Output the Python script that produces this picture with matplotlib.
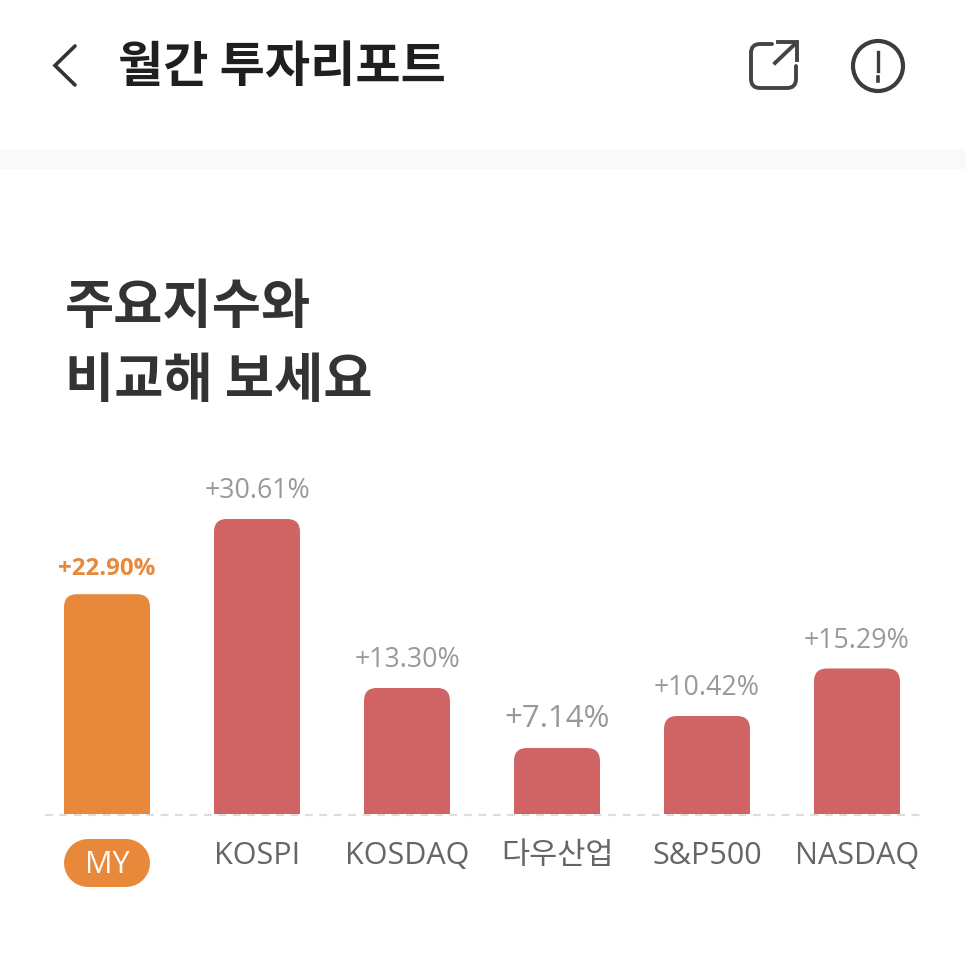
import matplotlib
matplotlib.use('Agg')
import matplotlib.pyplot as plt
from matplotlib.patches import FancyBboxPatch, Circle, Rectangle, PathPatch
from matplotlib.path import Path

plt.rcParams['font.family'] = ['Open Sans', 'Noto Sans CJK KR']

categories = ['MY', 'KOSPI', 'KOSDAQ', '다우산업', 'S&P500', 'NASDAQ']
returns = [22.90, 30.61, 13.30, 7.14, 10.42, 15.29]
value_labels = ['+22.90%', '+30.61%', '+13.30%', '+7.14%', '+10.42%', '+15.29%']

ORANGE = '#e8883b'
RED = '#d06464'
W, H = 966, 977
CJK = ['Noto Sans CJK KR', 'DejaVu Sans']

fig = plt.figure(figsize=(W / 100, H / 100), dpi=100, facecolor='white')

# page chrome, in pixel coordinates
bg = fig.add_axes([0, 0, 1, 1])
bg.set_xlim(0, W)
bg.set_ylim(H, 0)
bg.axis('off')

bg.add_patch(Rectangle((0, 149), W, 20, fc='#f7f9fa', ec='none'))
bg.text(118, 68, '월간 투자리포트', family=CJK, weight='bold', fontsize=35.4,
        color='#1f1f1f', va='center', ha='left')
bg.text(65, 307, '주요지수와', family=CJK, weight='bold', fontsize=38.5,
        color='#333333', va='center', ha='left')
bg.text(65, 381.5, '비교해 보세요', family=CJK, weight='bold', fontsize=38.5,
        color='#333333', va='center', ha='left')

# back arrow
bg.plot([75, 55, 75], [46, 65.5, 85], color='#333333', lw=2.6, solid_capstyle='round',
        solid_joinstyle='miter')

# share icon
C = Path.CURVE3
verts = [(772, 44), (760, 44), (751, 44), (751, 53), (751, 79), (751, 88), (760, 88),
         (787, 88), (796, 88), (796, 79), (796, 66)]
codes = [Path.MOVETO, Path.LINETO, C, C, Path.LINETO, C, C, Path.LINETO, C, C, Path.LINETO]
bg.add_patch(PathPatch(Path(verts, codes), fc='none', ec='#444444', lw=2.8, capstyle='round'))
bg.plot([775, 796], [63, 43], color='#444444', lw=2.8)
bg.plot([778, 797, 797], [42, 42, 60], color='#444444', lw=2.8, solid_joinstyle='miter')

# info icon
bg.add_patch(Circle((878, 66), 25, fc='none', ec='#3c3c3c', lw=3))
bg.plot([878, 878], [52, 71], color='#3c3c3c', lw=2.4)
bg.plot([878, 878], [76.5, 81], color='#3c3c3c', lw=2.6)

# baseline and MY pill
bg.plot([45, 921], [815, 815], color='#dddddd', lw=1.6, ls=(0, (3.5, 3)))
bg.plot([88, 126], [863, 863], color=ORANGE, lw=48 * 0.72, solid_capstyle='round')

# bars, the value axis starts just above zero like the reference
ax = fig.add_axes([0, 1 - 814 / H, 1, 364 / H])
ax.patch.set_alpha(0)
px_x, px_y = 150, 9.76
ax.set_xlim(-107 / px_x, (W - 107) / px_x)
y0 = 0.38
ax.set_ylim(y0, y0 + 364 / px_y)
for s in ax.spines.values():
    s.set_visible(False)
ax.set_yticks([])

colors = [ORANGE] + [RED] * 5
bars = ax.bar(range(len(categories)), returns, width=86 / px_x, color=colors)
for bar, val in zip(bars, returns):
    clip = FancyBboxPatch((bar.get_x(), -4), bar.get_width(), val + 4,
                          boxstyle='round,pad=0,rounding_size=%f' % (13 / px_x),
                          mutation_aspect=px_x / px_y, transform=ax.transData,
                          fc='none', ec='none')
    ax.add_patch(clip)
    bar.set_clip_path(clip)

label_sizes = [17.4, 19.3, 19.3, 22.5, 19.3, 19.3]
for i, (val, lab) in enumerate(zip(returns, value_labels)):
    first = i == 0
    ax.annotate(lab, (i, val), xytext=(0, 9.5 if first else 10), textcoords='offset points',
                ha='center', va='bottom', fontsize=label_sizes[i],
                color=ORANGE if first else '#999999',
                weight='bold' if first else 'normal')

ax.set_xticks(range(len(categories)))
ax.set_xticklabels(categories, fontsize=22, color='#666666')
ax.tick_params(axis='x', length=0, pad=19.5)
ax.xaxis.get_major_ticks()[0].set_pad(26)
ax.get_xticklabels()[0].set_color('white')

fig.savefig('out.png', dpi=100)
